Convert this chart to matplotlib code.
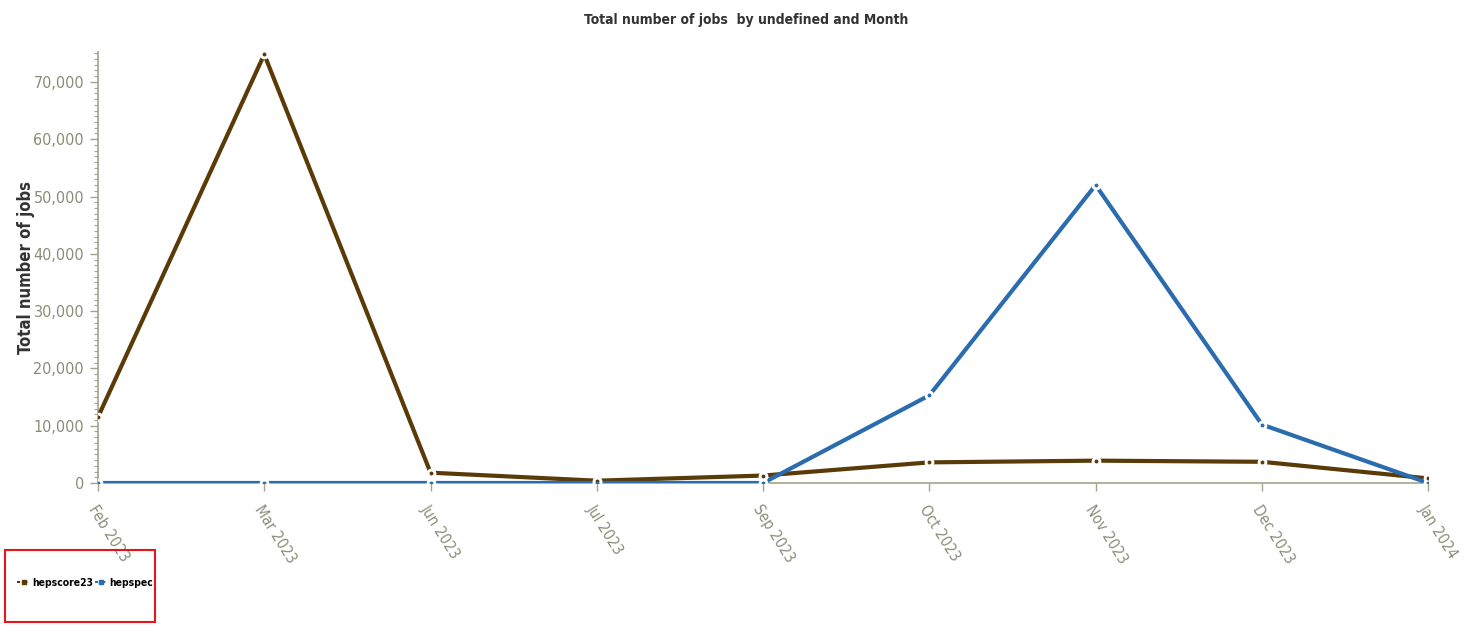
import matplotlib
matplotlib.use("Agg")
import matplotlib.pyplot as plt
from matplotlib.ticker import MultipleLocator, FuncFormatter
from matplotlib.patches import Rectangle
from matplotlib.lines import Line2D

months = ["Feb 2023", "Mar 2023", "Jun 2023", "Jul 2023", "Sep 2023",
          "Oct 2023", "Nov 2023", "Dec 2023", "Jan 2024"]
hepscore23 = [11500, 74800, 1800, 400, 1300, 3600, 3900, 3700, 800]
hepspec = [0, 0, 0, 0, 0, 15300, 52000, 10200, 0]
series_names = ["hepscore23", "hepspec"]
series_colors = ["#5a3b08", "#2a6cad"]

plt.rcParams['font.family'] = ['DejaVu Sans']
plt.rcParams['font.stretch'] = 'condensed'

fig = plt.figure(figsize=(14.8, 6.28), dpi=100)
ax = fig.add_axes([0.0662, 0.2309, 0.8988, 0.6861])

x = list(range(len(months)))
for vals, name, col in zip([hepscore23, hepspec], series_names, series_colors):
    ax.plot(x, vals, color=col, lw=3, zorder=3, solid_capstyle='butt')
    ax.plot(x, vals, ls='none', marker='o', ms=6, mfc='white', mec='white', zorder=4)
    ax.plot(x, vals, ls='none', marker='o', ms=1.8, mfc=col, mec=col, zorder=5)

axis_col = "#a2a48c"
tick_col = "#8b8c78"
ax.set_xlim(0, len(months) - 1)
ax.set_ylim(0, 75200)
ax.yaxis.set_major_locator(MultipleLocator(10000))
ax.yaxis.set_minor_locator(MultipleLocator(1000))
ax.yaxis.set_major_formatter(FuncFormatter(lambda v, p: f"{int(v):,}"))
ax.set_xticks(x)
ax.set_xticklabels(months, rotation=-58, ha='left', rotation_mode='anchor',
                   fontsize=11, color=tick_col)
for lab in ax.get_yticklabels():
    lab.set_fontsize(11.5)
    lab.set_color(tick_col)
ax.tick_params(axis='both', which='major', length=6, color=axis_col, width=1)
ax.tick_params(axis='y', which='minor', length=3, color=axis_col, width=0.8)
ax.tick_params(axis='x', pad=8)
ax.tick_params(axis='y', pad=4)
for s in ['top', 'right']:
    ax.spines[s].set_visible(False)
for s in ['left', 'bottom']:
    ax.spines[s].set_color(axis_col)
    ax.spines[s].set_linewidth(1.2)

ax.set_ylabel("Total number of jobs", fontsize=12, color="#333333", fontweight='bold')
ax.yaxis.set_label_coords(-0.047, 0.5)
fig.suptitle("Total number of jobs  by undefined and Month", x=0.504, y=0.98,
             fontsize=10, color="#333333", fontweight='bold')

# legend box
fig.patches.append(Rectangle((5 / 1480, 1 - 622 / 628), 150 / 1480, 72 / 628,
                             transform=fig.transFigure, fill=False,
                             edgecolor='#e8141c', lw=1.5))
handles = [Line2D([0], [0], color=c, ls=(0, (1.5, 2)), lw=1.5,
                  marker='s', ms=3, markevery=[0, -1]) for c in series_colors]
fig.legend(handles, series_names, loc='center left',
           bbox_to_anchor=(8 / 1480, 1 - 583 / 628), frameon=False,
           ncol=2, prop={'size': 7.5, 'weight': 'bold', 'stretch': 'condensed'},
           handlelength=1.2, handletextpad=0.2, columnspacing=0.2)

fig.savefig("out.png", dpi=100)
